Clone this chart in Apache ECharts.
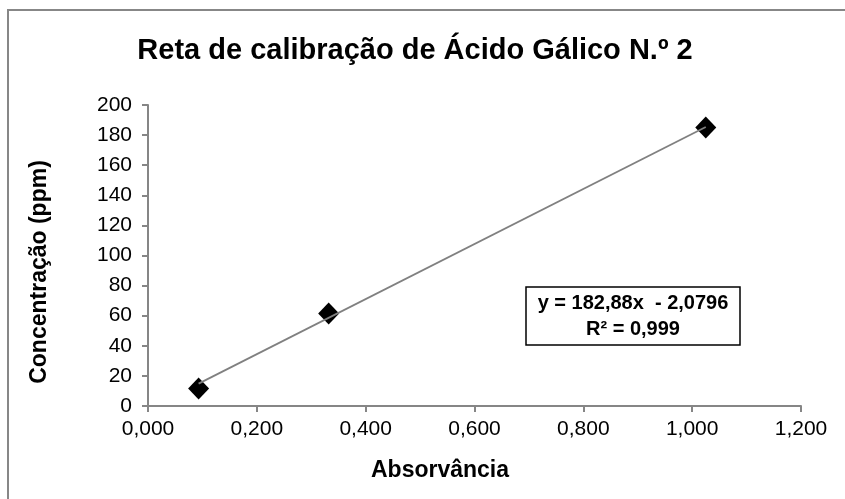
<!DOCTYPE html>
<html><head><meta charset="utf-8">
<script src="https://cdn.jsdelivr.net/npm/echarts@6/dist/echarts.min.js"></script>
<style>html,body{margin:0;padding:0;background:#fff}#c{width:845px;height:499px}</style>
</head><body><div id="c"></div>
<script>
const absorbance = [0.093, 0.332, 1.025];
const concentration = [11.6, 61.4, 185.0];
const trendX = [0.093, 1.025];
const trendY = [14.9, 185.4];
const xTicks = ['0,000','0,200','0,400','0,600','0,800','1,000','1,200'];
const titleText = 'Reta de calibração de Ácido Gálico N.º 2';
const xTitle = 'Absorvância';
const yTitle = 'Concentração (ppm)';
const eqLine1 = 'y = 182,88x  - 2,0796';
const eqLine2 = 'R² = 0,999';

const FONT = '"Liberation Sans", Arial, sans-serif';
const chart = echarts.init(document.getElementById('c'), null, {renderer:'canvas'});
chart.setOption({
  animation:false,
  backgroundColor:'#fff',
  title:{text:titleText,left:410,top:31,textAlign:'center',
    textStyle:{fontFamily:FONT,fontSize:29,fontWeight:'bold',color:'#000'}},
  grid:{left:148,right:44,top:105,bottom:93,containLabel:false},
  xAxis:{type:'value',min:0,max:1.2,interval:0.2,
    axisLine:{lineStyle:{color:'#868686',width:2}},
    axisTick:{show:true,length:6,lineStyle:{color:'#868686',width:2}},
    splitLine:{show:false},
    axisLabel:{margin:13,fontFamily:FONT,fontSize:21,color:'#000',
      formatter:(v)=>xTicks[Math.round(v/0.2)]}},
  yAxis:{type:'value',min:0,max:200,interval:20,
    axisLine:{show:true,lineStyle:{color:'#868686',width:2}},
    axisTick:{show:true,length:6,lineStyle:{color:'#868686',width:2}},
    splitLine:{show:false},
    axisLabel:{margin:16,fontFamily:FONT,fontSize:21,color:'#000'}},
  series:[
    {type:'line',data:trendX.map((x,i)=>[x,trendY[i]]),symbol:'none',
     lineStyle:{color:'#808080',width:1.8},z:3},
    {type:'scatter',data:absorbance.map((x,i)=>[x,concentration[i]]),
     symbol:'diamond',symbolSize:[21,22],itemStyle:{color:'#000',opacity:1},z:2}
  ],
  graphic:[
    {type:'rect',shape:{x:8,y:10,width:900,height:600},
     style:{fill:'none',stroke:'#878787',lineWidth:2},silent:true},
    {type:'text',x:440,y:471,style:{text:xTitle,font:'bold 23px '+FONT,
      fill:'#000',align:'center',verticalAlign:'middle'}},
    {type:'text',x:40,y:272,rotation:Math.PI/2,style:{text:yTitle,font:'bold 23px '+FONT,
      fill:'#000',align:'center',verticalAlign:'middle'}},
    {type:'rect',shape:{x:526,y:287,width:214,height:58},
     style:{fill:'#fff',stroke:'#000',lineWidth:1.5}},
    {type:'text',x:633,y:303,style:{text:eqLine1,font:'bold 20px '+FONT,
      fill:'#000',align:'center',verticalAlign:'middle'}},
    {type:'text',x:633,y:329,style:{text:eqLine2,font:'bold 20px '+FONT,
      fill:'#000',align:'center',verticalAlign:'middle'}}
  ]
});
</script></body></html>
